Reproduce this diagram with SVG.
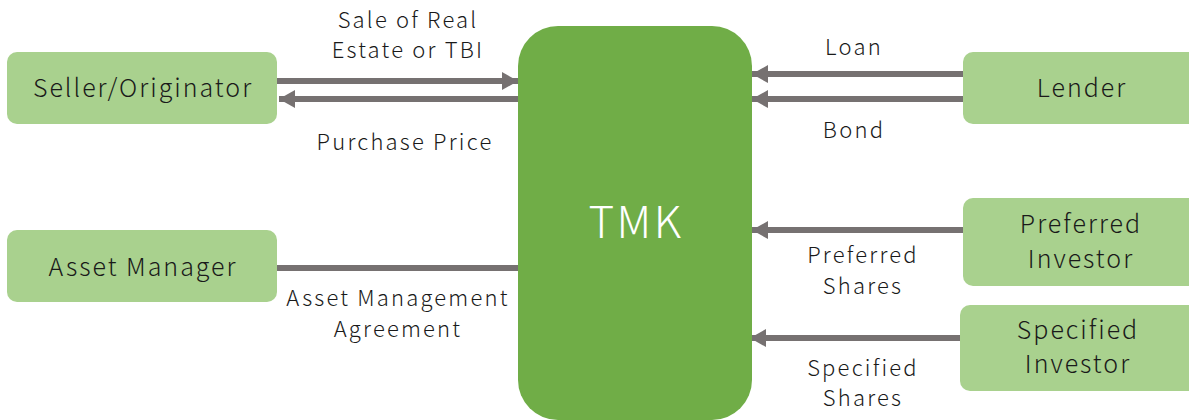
<svg xmlns="http://www.w3.org/2000/svg" width="1189" height="420" viewBox="0 0 1189 420">
  <style>
    .party { fill: #a9d18e; }
    .hub { fill: #70ad47; }
    .name { font-family: "Noto Sans CJK JP", "Noto Sans", sans-serif; font-weight: 300; font-size: 25px; fill: #1a1a1a; text-anchor: middle; letter-spacing: 2px; }
    .hubname { font-family: "Noto Sans CJK JP", "Noto Sans", sans-serif; font-weight: 300; font-size: 44px; fill: #ffffff; text-anchor: middle; letter-spacing: 2.5px; }
    .label { font-family: "Noto Sans CJK JP", "Noto Sans", sans-serif; font-weight: 300; font-size: 22px; fill: #1a1a1a; text-anchor: middle; letter-spacing: 2.2px; }
    .flow { stroke: #767171; stroke-width: 6; fill: none; }
  </style>
  <defs>
    <marker id="head" markerUnits="userSpaceOnUse" markerWidth="18" markerHeight="20" refX="16" refY="10" orient="auto">
      <path d="M0,1 L16,10 L0,19 Z" fill="#767171"/>
    </marker>
  </defs>
  <rect width="1189" height="420" fill="#ffffff"/>

  <!-- flows between the parties and the TMK -->
  <g id="connectors">
    <line class="flow" x1="277" y1="81" x2="518" y2="81" marker-end="url(#head)"/>
    <line class="flow" x1="518" y1="99" x2="279" y2="99" marker-end="url(#head)"/>
    <line class="flow" x1="277" y1="268" x2="518" y2="268"/>
    <line class="flow" x1="963" y1="74" x2="752" y2="74" marker-end="url(#head)"/>
    <line class="flow" x1="963" y1="99" x2="752" y2="99" marker-end="url(#head)"/>
    <line class="flow" x1="963" y1="230" x2="752" y2="230" marker-end="url(#head)"/>
    <line class="flow" x1="960" y1="338" x2="750" y2="338" marker-end="url(#head)"/>
    <text class="label" x="408" y="28">Sale of Real</text>
    <text class="label" x="408" y="58">Estate or TBI</text>
    <text class="label" x="405" y="150">Purchase Price</text>
    <text class="label" x="398" y="306">Asset Management</text>
    <text class="label" x="398" y="337">Agreement</text>
    <text class="label" x="854" y="55">Loan</text>
    <text class="label" x="854" y="138">Bond</text>
    <text class="label" x="863" y="263">Preferred</text>
    <text class="label" x="863" y="294">Shares</text>
    <text class="label" x="863" y="376">Specified</text>
    <text class="label" x="863" y="406">Shares</text>
  </g>

  <g id="tmk">
    <rect class="hub" x="518" y="26" width="234" height="394" rx="40"/>
    <text class="hubname" x="636" y="238">TMK</text>
  </g>
  <g id="seller">
    <rect class="party" x="7" y="52" width="270" height="72" rx="10"/>
    <text class="name" x="143" y="97">Seller/Originator</text>
  </g>
  <g id="asset-manager">
    <rect class="party" x="7" y="230" width="270" height="72" rx="10"/>
    <text class="name" x="143" y="276">Asset Manager</text>
  </g>
  <g id="lender">
    <rect class="party" x="963" y="52" width="240" height="72" rx="10"/>
    <text class="name" x="1082" y="97">Lender</text>
  </g>
  <g id="preferred-investor">
    <rect class="party" x="963" y="198" width="240" height="88" rx="10"/>
    <text class="name" x="1081" y="233">Preferred</text>
    <text class="name" x="1081" y="268">Investor</text>
  </g>
  <g id="specified-investor">
    <rect class="party" x="960" y="305" width="240" height="86" rx="10"/>
    <text class="name" x="1078" y="339">Specified</text>
    <text class="name" x="1078" y="373">Investor</text>
  </g>
</svg>
